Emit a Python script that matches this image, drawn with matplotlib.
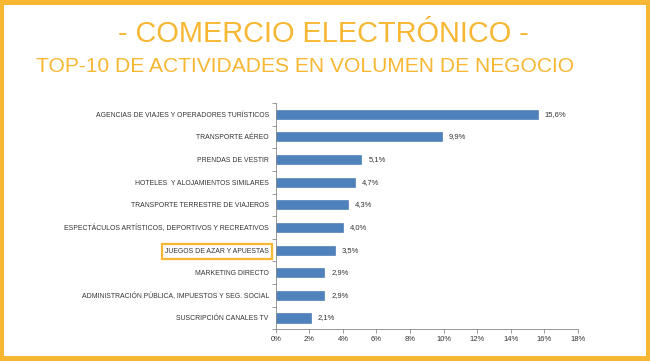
import matplotlib
matplotlib.use("Agg")
import matplotlib.pyplot as plt
from matplotlib import font_manager
from matplotlib.patches import Rectangle

categories = [
    "AGENCIAS DE VIAJES Y OPERADORES TURÍSTICOS",
    "TRANSPORTE AÉREO",
    "PRENDAS DE VESTIR",
    "HOTELES  Y ALOJAMIENTOS SIMILARES",
    "TRANSPORTE TERRESTRE DE VIAJEROS",
    "ESPECTÁCULOS ARTÍSTICOS, DEPORTIVOS Y RECREATIVOS",
    "JUEGOS DE AZAR Y APUESTAS",
    "MARKETING DIRECTO",
    "ADMINISTRACIÓN PÚBLICA, IMPUESTOS Y SEG. SOCIAL",
    "SUSCRIPCIÓN CANALES TV",
]
values = [15.6, 9.9, 5.1, 4.7, 4.3, 4.0, 3.5, 2.9, 2.9, 2.1]
xticks = [0, 2, 4, 6, 8, 10, 12, 14, 16, 18]
highlight = "JUEGOS DE AZAR Y APUESTAS"

ORANGE = "#F7B733"
BLUE = "#4F81BD"
W, H = 650, 361


def pick_font(names):
    for n in names:
        try:
            font_manager.findfont(n, fallback_to_default=False)
            return n
        except Exception:
            pass
    return "DejaVu Sans"


plain = pick_font(["Liberation Sans", "DejaVu Sans"])

fig = plt.figure(figsize=(6.5, 3.61), dpi=100)
fig.patch.set_facecolor("white")

# orange frame (left, right, top, bottom bands in pixels)
for x, y, w, h in [(0, 0, 4, H), (W - 4, 0, 4, H), (0, H - 5, W, 5), (0, 0, W, 5)]:
    fig.patches.append(Rectangle((x / W, y / H), w / W, h / H, transform=fig.transFigure,
                                 facecolor=ORANGE, edgecolor="none"))

fig.text(0.497, 0.907, "- COMERCIO ELECTRÓNICO -", ha="center", va="center",
         color=ORANGE, fontsize=20.8, family=plain)
fig.text(0.47, 0.815, "TOP-10 DE ACTIVIDADES EN VOLUMEN DE NEGOCIO", ha="center",
         va="center", color=ORANGE, fontsize=15.1, family=plain)

ax = fig.add_axes([0.4242, 0.0878, 0.4650, 0.6269])
pos = list(range(len(categories)))
ax.barh(pos, values, height=0.4, color=BLUE, edgecolor="#3F6FA8", linewidth=0.4)
ax.set_ylim(len(categories) - 0.5, -0.5)
ax.set_xlim(0, 18)

ax.set_xticks(xticks)
ax.set_xticklabels([f"{t}%" for t in xticks], fontsize=5.5, family=plain, color="#333333")
ax.set_yticks(pos)
ax.set_yticklabels(categories, fontsize=4.95, family=plain, color="#333333")
ax.set_yticks([p - 0.5 for p in pos] + [len(pos) - 0.5], minor=True)
ax.tick_params(axis="y", which="major", length=0, pad=5)
ax.tick_params(axis="y", which="minor", length=3, color="#888888", width=0.6)
ax.tick_params(axis="x", length=3, color="#888888", width=0.6, pad=2)

for s in ["top", "right"]:
    ax.spines[s].set_visible(False)
for s in ["left", "bottom"]:
    ax.spines[s].set_color("#888888")
    ax.spines[s].set_linewidth(0.6)

for p, v in zip(pos, values):
    ax.annotate(f"{v:.1f}%".replace(".", ","), (v, p), xytext=(5, 0),
                textcoords="offset points", va="center", ha="left",
                fontsize=5.5, family=plain, color="#333333")

# highlight box around one label
fig.canvas.draw()
renderer = fig.canvas.get_renderer()
for lab in ax.get_yticklabels():
    if lab.get_text() == highlight:
        bb = lab.get_window_extent(renderer)
        x0, x1 = bb.x0 - 3, bb.x1 + 3
        yc = (bb.y0 + bb.y1) / 2
        fig.patches.append(Rectangle((x0 / W, (yc - 7.5) / H), (x1 - x0) / W, 15 / H,
                                     transform=fig.transFigure, fill=False,
                                     edgecolor=ORANGE, linewidth=1.6))

fig.savefig("out.png", dpi=100, facecolor="white")
